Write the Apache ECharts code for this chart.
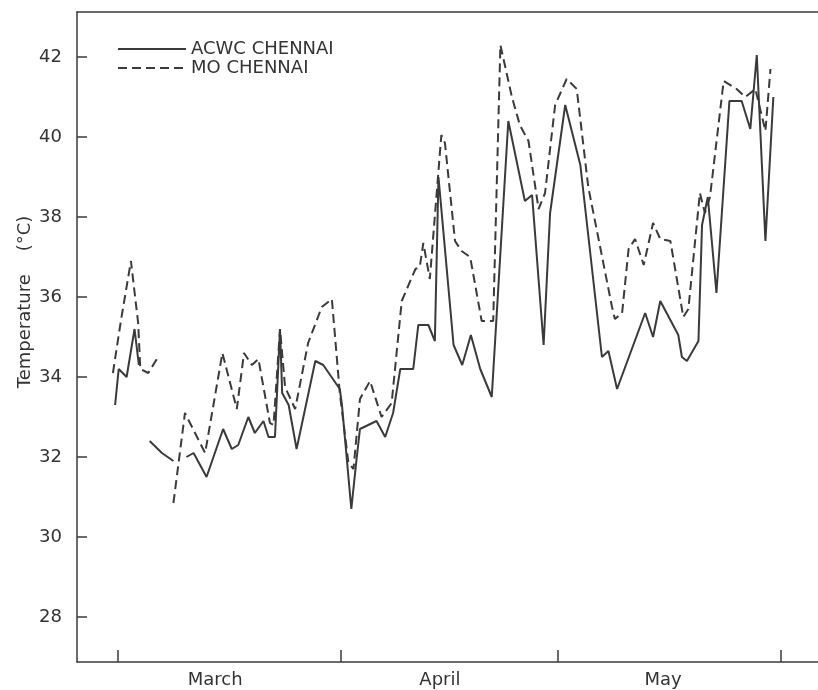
<!DOCTYPE html>
<html>
<head>
<meta charset="utf-8">
<script src="https://cdn.jsdelivr.net/npm/echarts@6/dist/echarts.min.js"></script>
<style>
  html, body { margin: 0; background: #fff; }
  #chart { width: 818px; height: 690px; }
</style>
</head>
<body>
<div id="chart"></div>
<script>
// days counted from 1 March (0 = 1 Mar), maximum temperature in °C
// null = the trace is broken in the original figure
var acwcDays = [-0.4, 0.1, 1.2, 2.3, 2.9, 3.5, 4.4, 6.1, 7.7, 8.5, 9.5, 10.5, 12.3, 14.6, 15.8, 16.7, 18.1, 19.0, 20.2, 20.9,
    21.8, 22.5, 22.8, 23.7, 24.8, 27.4, 28.5, 30.8, 31.1, 32.4, 33.1, 33.6, 35.9, 37.1, 38.2, 39.2, 41.0, 41.7, 43.1, 44.0,
    44.5, 46.6, 47.8, 49.0, 50.3, 51.9, 54.2, 56.5, 57.5, 59.1, 60.0, 62.1, 64.2, 67.2, 68.1, 69.3, 73.2, 74.3, 75.3, 77.8,
    78.3, 79.0, 80.6, 81.1, 81.9, 83.1, 84.9, 86.6, 87.8, 88.7, 89.9, 91.0];
var acwcTemps = [33.3, 34.2, 34.0, 35.2, 34.3, null, 32.4, 32.1, 31.9, null, 32.0, 32.1, 31.5, 32.7, 32.2, 32.3, 33.0, 32.6, 32.9, 32.5,
    32.5, 35.2, 33.6, 33.3, 32.2, 34.4, 34.3, 33.7, 33.3, 30.7, 31.9, 32.7, 32.9, 32.5, 33.1, 34.2, 34.2, 35.3, 35.3, 34.9,
    39.0, 34.8, 34.3, 35.05, 34.2, 33.5, 40.4, 38.4, 38.55, 34.8, 38.1, 40.8, 39.3, 34.5, 34.65, 33.7, 35.6, 35.0, 35.9, 35.05,
    34.5, 34.4, 34.9, 37.8, 38.5, 36.1, 40.9, 40.9, 40.2, 42.05, 37.4, 41.0];

var moDays = [-0.7, 0.4, 1.8, 2.8, 3.1, 4.2, 5.4, 6.5, 7.7, 9.3, 12.1, 14.5, 16.5, 17.5, 18.6, 19.5, 21.1, 21.6, 22.5, 23.2,
    24.6, 26.4, 28.3, 29.7, 30.8, 32.0, 32.7, 33.6, 35.0, 36.6, 38.0, 39.4, 41.3, 41.9, 42.4, 43.3, 44.9, 45.4, 46.8, 47.7,
    48.9, 50.5, 52.1, 53.1, 54.7, 55.8, 57.0, 58.4, 59.3, 60.7, 62.3, 63.7, 65.3, 68.6, 69.0, 70.0, 70.9, 71.8, 73.0, 74.3,
    75.3, 76.7, 78.5, 79.2, 80.8, 81.5, 82.2, 84.1, 85.9, 87.1, 88.5, 89.9, 90.6];
var moTemps = [34.1, 35.4, 36.9, 35.35, 34.2, 34.1, 34.45, null, 30.85, 33.1, 32.1, 34.6, 33.2, 34.6, 34.3, 34.45, 32.85, 32.8, 35.2, 33.75,
    33.2, 34.85, 35.75, 35.95, 33.6, 31.85, 31.7, 33.45, 33.9, 33.0, 33.35, 35.9, 36.7, 36.75, 37.35, 36.45, 40.05, 39.85, 37.4, 37.15,
    37.0, 35.4, 35.4, 42.3, 41.0, 40.3, 39.9, 38.2, 38.6, 40.8, 41.45, 41.2, 38.75, 35.75, 35.45, 35.6, 37.2, 37.45, 36.8, 37.85,
    37.45, 37.4, 35.5, 35.7, 38.6, 38.1, 38.5, 41.4, 41.2, 41.0, 41.2, 40.15, 41.7];

var monthNames = ['March', 'April', 'May'];
var monthLabelDays = [13.5, 44.7, 75.7];
var monthTickDays = [0, 31, 61, 92];
var tempTicks = [28, 30, 32, 34, 36, 38, 40, 42];

function pairs(days, temps) {
    return days.map(function (d, i) {
        return [d, temps[i] == null ? '-' : temps[i]];
    });
}

var ink = '#3a3a3a';
var font = 'DejaVu Sans';

var option = {
    animation: false,
    backgroundColor: '#fff',
    textStyle: { fontFamily: font },
    grid: { left: 77, right: 0, top: 12, bottom: 28 },
    legend: {
        orient: 'vertical',
        left: 117,
        top: 40,
        padding: 0,
        itemWidth: 68,
        itemHeight: 14,
        itemGap: 1,
        itemStyle: { opacity: 0 },
        textStyle: { fontSize: 18, color: '#333', fontFamily: font },
        data: ['ACWC CHENNAI', 'MO CHENNAI']
    },
    // y axis title, placed a bit above the middle as in the original
    graphic: [{
        type: 'text',
        x: 25,
        y: 302,
        rotation: Math.PI / 2,
        style: {
            text: 'Temperature    (°C)',
            font: '18px "DejaVu Sans"',
            fill: '#333',
            align: 'center',
            verticalAlign: 'middle'
        }
    }],
    xAxis: [{
        type: 'value',
        min: -5.69,
        max: 97.2,
        axisLine: { onZero: false, lineStyle: { color: ink, width: 1.5 } },
        axisTick: { inside: true, length: 12, customValues: monthTickDays, lineStyle: { color: ink, width: 1.5 } },
        axisLabel: {
            customValues: monthLabelDays,
            margin: 9,
            fontSize: 18,
            color: '#333',
            formatter: function (v) {
                return monthNames[monthLabelDays.indexOf(v)] || '';
            }
        },
        splitLine: { show: false }
    }, {
        type: 'value',
        position: 'top',
        min: -5.69,
        max: 97.2,
        axisLine: { show: true, onZero: false, lineStyle: { color: ink, width: 1.5 } },
        axisTick: { show: false },
        axisLabel: { show: false },
        splitLine: { show: false }
    }],
    yAxis: {
        type: 'value',
        min: 26.875,
        max: 43.125,
        axisLine: { show: true, onZero: false, lineStyle: { color: ink, width: 1.5 } },
        axisTick: { inside: true, length: 10, customValues: tempTicks, lineStyle: { color: ink, width: 1.5 } },
        axisLabel: { customValues: tempTicks, margin: 15, fontSize: 18, color: '#333' },
        splitLine: { show: false }
    },
    series: [{
        name: 'ACWC CHENNAI',
        type: 'line',
        symbol: 'none',
        connectNulls: false,
        lineStyle: { color: ink, width: 2 },
        itemStyle: { color: ink },
        data: pairs(acwcDays, acwcTemps)
    }, {
        name: 'MO CHENNAI',
        type: 'line',
        symbol: 'none',
        connectNulls: false,
        lineStyle: { color: ink, width: 2, type: [9, 5] },
        itemStyle: { color: ink },
        data: pairs(moDays, moTemps)
    }]
};

var myChart = echarts.init(document.getElementById('chart'));
myChart.setOption(option);
</script>
</body>
</html>
